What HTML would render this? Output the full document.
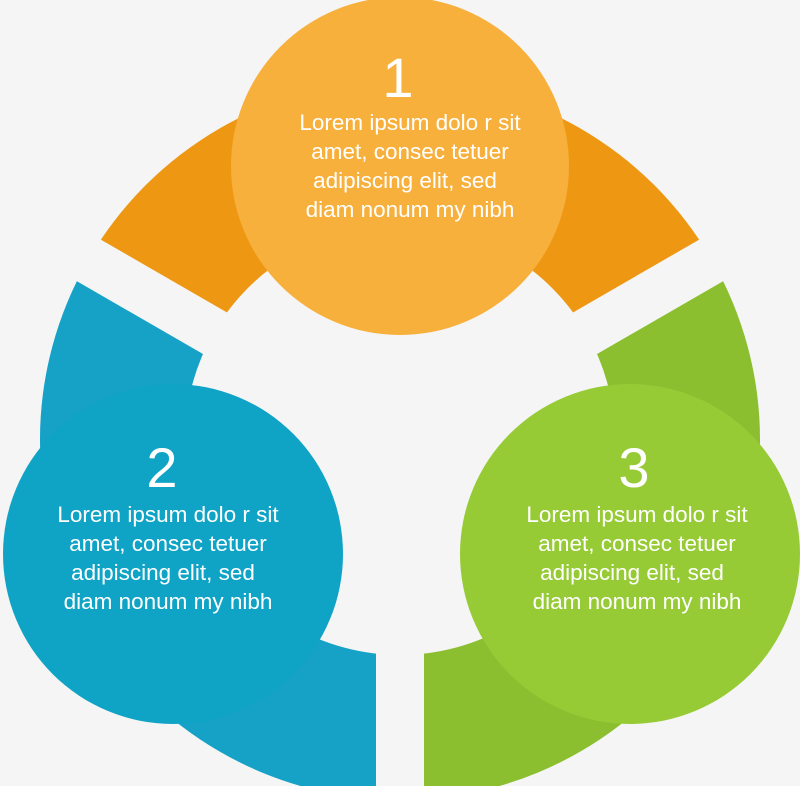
<!DOCTYPE html>
<html><head><style>
html,body{margin:0;padding:0;background:#f5f5f5;width:800px;height:786px;overflow:hidden;}
svg{display:block;}
text{font-family:"Liberation Sans",sans-serif;fill:#fff;text-anchor:middle;}
</style></head><body>
<svg width="800" height="786" viewBox="0 0 800 786" xmlns="http://www.w3.org/2000/svg">
<rect width="800" height="786" fill="#f5f5f5"/>
<path d="M88.2,260 A360,360 0 0 1 711.8,260 L586.2,332.5 A215,215 0 0 0 213.8,332.5 Z" fill="#EE9713"/>
<path d="M711.8,260 A360,360 0 0 1 400,800 L400,655 A215,215 0 0 0 586.2,332.5 Z" fill="#8BBF30"/>
<path d="M400,800 A360,360 0 0 1 88.2,260 L213.8,332.5 A215,215 0 0 0 400,655 Z" fill="#15A2C6"/>
<g stroke="#f5f5f5" stroke-width="48">
<line x1="400" y1="440" x2="400" y2="830"/>
<line x1="400" y1="440" x2="50" y2="238"/>
<line x1="400" y1="440" x2="750" y2="238"/>
</g>
<circle cx="400" cy="166" r="169" fill="#F8B03C"/>
<circle cx="173" cy="554" r="170" fill="#0FA3C6"/>
<circle cx="630" cy="554" r="170" fill="#97CB36"/>
<g font-size="22.5">
<text x="398" y="97" font-size="56">1</text>
<text x="410" y="130">Lorem ipsum dolo r sit</text>
<text x="410" y="159">amet, consec tetuer</text>
<text x="405" y="188">adipiscing elit, sed</text>
<text x="410" y="217">diam nonum my nibh</text>

<text x="162" y="487" font-size="56">2</text>
<text x="168" y="522">Lorem ipsum dolo r sit</text>
<text x="168" y="551">amet, consec tetuer</text>
<text x="163" y="580">adipiscing elit, sed</text>
<text x="168" y="609">diam nonum my nibh</text>

<text x="634" y="487" font-size="56">3</text>
<text x="637" y="522">Lorem ipsum dolo r sit</text>
<text x="637" y="551">amet, consec tetuer</text>
<text x="632" y="580">adipiscing elit, sed</text>
<text x="637" y="609">diam nonum my nibh</text>
</g>
</svg>
</body></html>
